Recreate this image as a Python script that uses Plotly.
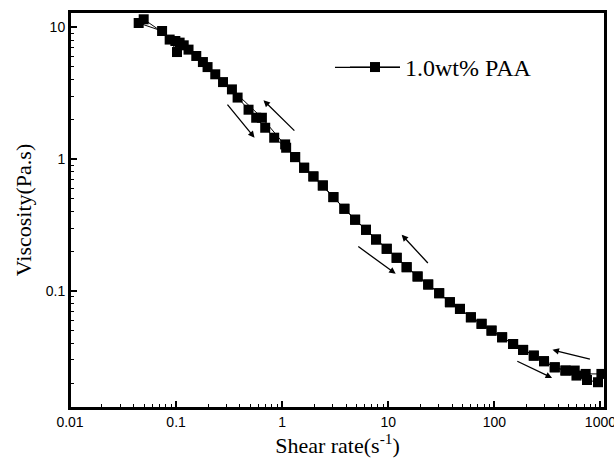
import math
import plotly.graph_objects as go

# Up-sweep (increasing shear rate)
shear_up = [0.0444, 0.0738, 0.0870, 0.102, 0.118, 0.155, 0.198, 0.277, 0.380, 0.482,
            0.569, 0.692, 0.841, 1.09, 1.325, 1.611, 1.97, 2.416, 3.04, 3.86, 4.87,
            6.17, 7.67, 9.67, 12.0, 14.9, 18.9, 23.8, 30.2, 38.1, 47.4, 60.1, 75.8,
            94.1, 118.4, 150.3, 186.7, 235.4, 294, 371, 468, 594, 747, 948]
visc_up = [10.78, 9.37, 8.07, 6.49, 7.30, 6.06, 4.99, 3.84, 2.93, 2.37,
           2.06, 1.73, 1.454, 1.22, 1.036, 0.860, 0.739, 0.631, 0.515, 0.420, 0.347,
           0.291, 0.2456, 0.2088, 0.1784, 0.1514, 0.1287, 0.1119, 0.0961, 0.0821, 0.0731, 0.0631, 0.0563,
           0.0500, 0.0445, 0.0396, 0.0357, 0.0323, 0.0293, 0.02635, 0.0249, 0.0228, 0.0211, 0.0203]

# Down-sweep (decreasing shear rate), listed from high to low shear rate
shear_down = [1021, 726, 572, 468, 371, 294, 235.4, 186.7, 150.3, 118.4, 94.1, 75.8,
              60.1, 47.4, 38.1, 30.2, 23.8, 18.9, 14.9, 12.0, 9.67, 7.67, 6.17, 4.87,
              3.86, 3.04, 2.416, 1.97, 1.611, 1.325, 1.067, 0.644, 0.336, 0.234, 0.179,
              0.131, 0.108, 0.0984, 0.0495]
visc_down = [0.02347, 0.02347, 0.0249, 0.0249, 0.02635, 0.0293, 0.0323, 0.0357, 0.0396, 0.0445, 0.0500, 0.0563,
             0.0631, 0.0731, 0.0821, 0.0961, 0.1119, 0.1287, 0.1514, 0.1784, 0.2088, 0.2456, 0.291, 0.347,
             0.420, 0.515, 0.631, 0.739, 0.860, 1.036, 1.293, 2.06, 3.38, 4.40, 5.45,
             6.77, 7.65, 7.87, 11.5]

x_ticks = [0.01, 0.1, 1, 10, 100, 1000]
x_tick_text = ["0.01", "0.1", "1", "10", "100", "1000"]
y_ticks = [0.1, 1, 10]
y_tick_text = ["0.1", "1", "10"]
series_name = "1.0wt% PAA"

# Sweep-direction arrows: (head x, head y, tail x, tail y) in data units
arrows = [
    (0.549, 1.454, 0.297, 2.66),
    (0.667, 2.79, 1.346, 1.603),
    (11.75, 0.1349, 5.05, 0.2213),
    (13.38, 0.2667, 24.34, 0.1587),
    (350, 0.02188, 159.3, 0.02965),
    (353, 0.03573, 822, 0.03013),
]

minor_x = [m * 10 ** k for k in range(-2, 3) for m in range(2, 10)]
minor_y = [m * 10 ** k for k in range(-2, 1) for m in range(2, 10)]

fig = go.Figure()
fig.add_trace(go.Scatter(
    x=shear_up + shear_down,
    y=visc_up + visc_down,
    mode="lines+markers",
    name=series_name,
    line=dict(color="black", width=1),
    marker=dict(symbol="square", size=10, color="black"),
))

for hx, hy, tx, ty in arrows:
    fig.add_annotation(
        x=math.log10(hx), y=math.log10(hy), ax=math.log10(tx), ay=math.log10(ty),
        xref="x", yref="y", axref="x", ayref="y",
        showarrow=True, arrowhead=2, arrowsize=1, arrowwidth=1.3,
        arrowcolor="black", text="",
    )

axis_common = dict(
    type="log", showline=True, linecolor="black", linewidth=2, mirror=True,
    ticks="inside", ticklen=7, tickwidth=1.5, tickcolor="black",
    showgrid=False, zeroline=False, automargin=False, ticklabeloverflow="allow",
    tickfont=dict(family="Liberation Sans", size=14, color="black"),
)

fig.update_xaxes(
    **axis_common, range=[-2, 3.043], tickmode="array", tickvals=x_ticks, ticktext=x_tick_text,
    minor=dict(ticks="inside", ticklen=4, tickwidth=1.2, tickcolor="black",
               tickmode="array", tickvals=minor_x, showgrid=False),
    title=dict(text="Shear rate(s<sup>-1</sup>)", standoff=6,
               font=dict(family="Liberation Serif", size=22, color="black")),
)
fig.update_yaxes(
    **axis_common, range=[-1.888, 1.116], tickmode="array", tickvals=y_ticks, ticktext=y_tick_text,
    minor=dict(ticks="inside", ticklen=4, tickwidth=1.2, tickcolor="black",
               tickmode="array", tickvals=minor_y, showgrid=False),
    title=dict(text="Viscosity(Pa.s)", standoff=8,
               font=dict(family="Liberation Serif", size=22, color="black")),
)

# plot frame
fig.add_shape(type="rect", xref="paper", yref="paper", x0=0, x1=1, y0=0, y1=1,
              line=dict(color="black", width=2), layer="above")
# longer legend sample line ("—■—")
fig.add_shape(type="line", xref="paper", yref="paper", x0=0.4953, x1=0.6168, y0=0.86, y1=0.86,
              line=dict(color="black", width=1.2), layer="above")

fig.update_layout(
    width=614, height=470,
    margin=dict(l=70, r=9, t=12, b=62),
    paper_bgcolor="white", plot_bgcolor="white",
    showlegend=True,
    legend=dict(x=0.514, y=0.86, xanchor="left", yanchor="middle", itemwidth=50,
                bgcolor="rgba(0,0,0,0)",
                font=dict(family="Liberation Serif", size=24, color="black")),
)

fig.write_html("out.html", config={"displayModeBar": False},
               post_script="document.body.style.margin='0';")
